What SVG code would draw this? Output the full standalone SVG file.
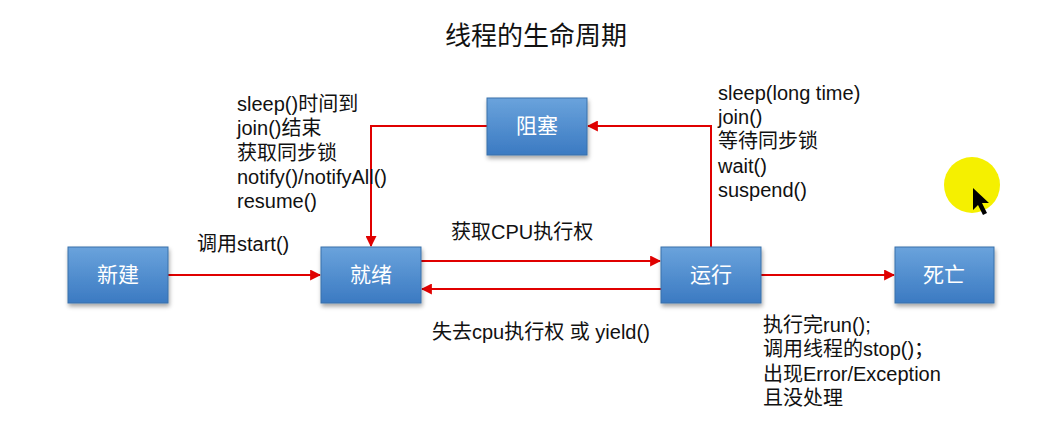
<svg xmlns="http://www.w3.org/2000/svg" width="1039" height="447" viewBox="0 0 1039 447">
<defs>
<linearGradient id="boxg" x1="0" y1="0" x2="0" y2="1">
<stop offset="0" stop-color="#6aa3dc"/>
<stop offset="1" stop-color="#3b7ac2"/>
</linearGradient>
<filter id="sh" x="-10%" y="-10%" width="130%" height="140%">
<feDropShadow dx="1" dy="3" stdDeviation="2" flood-color="#000" flood-opacity="0.35"/>
</filter>
<marker id="arr" viewBox="0 0 10 10" refX="9" refY="5" markerWidth="5.5" markerHeight="5.5" orient="auto" markerUnits="strokeWidth">
<path d="M0,0 L10,5 L0,10 z" fill="#e00000"/>
</marker>
<style>
.box{fill:url(#boxg);stroke:#3a70aa;stroke-width:1;filter:url(#sh)}
.bt{font-family:"Liberation Sans","Noto Sans CJK SC",sans-serif;font-size:21px;fill:#ffffff;text-anchor:middle}
.lbl{font-family:"Liberation Sans","Noto Sans CJK SC",sans-serif;font-size:20px;fill:#111111}
.title{font-family:"Noto Sans CJK SC","Liberation Sans",sans-serif;font-size:26px;fill:#111111;text-anchor:middle}
.c{fill:none;stroke:#e00000;stroke-width:2;marker-end:url(#arr)}
</style>
</defs>
<rect width="1039" height="447" fill="#ffffff"/>
<text class="title" x="536" y="45">线程的生命周期</text>

<g id="connectors">
<line class="c" x1="168" y1="275" x2="320" y2="275"/>
<line class="c" x1="421" y1="261" x2="660" y2="261"/>
<line class="c" x1="661" y1="289" x2="422" y2="289"/>
<polyline class="c" points="711,247 711,126 588,126"/>
<polyline class="c" points="487,126 371,126 371,246"/>
<line class="c" x1="761" y1="275" x2="894" y2="275"/>
</g>

<g id="node-new"><rect class="box" x="68" y="247" width="100" height="56"/><text class="bt" x="118" y="282">新建</text></g>
<g id="node-ready"><rect class="box" x="321" y="247" width="100" height="56"/><text class="bt" x="371" y="282">就绪</text></g>
<g id="node-running"><rect class="box" x="661" y="247" width="100" height="56"/><text class="bt" x="711" y="282">运行</text></g>
<g id="node-dead"><rect class="box" x="895" y="247" width="99" height="56"/><text class="bt" x="944" y="282">死亡</text></g>
<g id="node-blocked"><rect class="box" x="487" y="98" width="100" height="57"/><text class="bt" x="537" y="133">阻塞</text></g>

<g id="labels">
<text class="lbl" x="237" y="111">sleep()时间到</text>
<text class="lbl" x="237" y="135">join()结束</text>
<text class="lbl" x="237" y="160">获取同步锁</text>
<text class="lbl" x="237" y="184">notify()/notifyAll()</text>
<text class="lbl" x="237" y="208">resume()</text>
<text class="lbl" x="197" y="251">调用start()</text>
<text class="lbl" x="451" y="239">获取CPU执行权</text>
<text class="lbl" x="432" y="339">失去cpu执行权 或 yield()</text>
<text class="lbl" x="718" y="100">sleep(long time)</text>
<text class="lbl" x="718" y="124">join()</text>
<text class="lbl" x="718" y="148">等待同步锁</text>
<text class="lbl" x="718" y="173">wait()</text>
<text class="lbl" x="718" y="197">suspend()</text>
<text class="lbl" x="763" y="332">执行完run();</text>
<text class="lbl" x="763" y="356">调用线程的stop()；</text>
<text class="lbl" x="763" y="381">出现Error/Exception</text>
<text class="lbl" x="763" y="405">且没处理</text>
</g>

<circle cx="972" cy="185" r="28" fill="#f5f000"/>
<path d="M973,188 L973,210 L978,205 L983,215 L987,213 L982,203 L989,203 Z" fill="#000000"/>
</svg>
